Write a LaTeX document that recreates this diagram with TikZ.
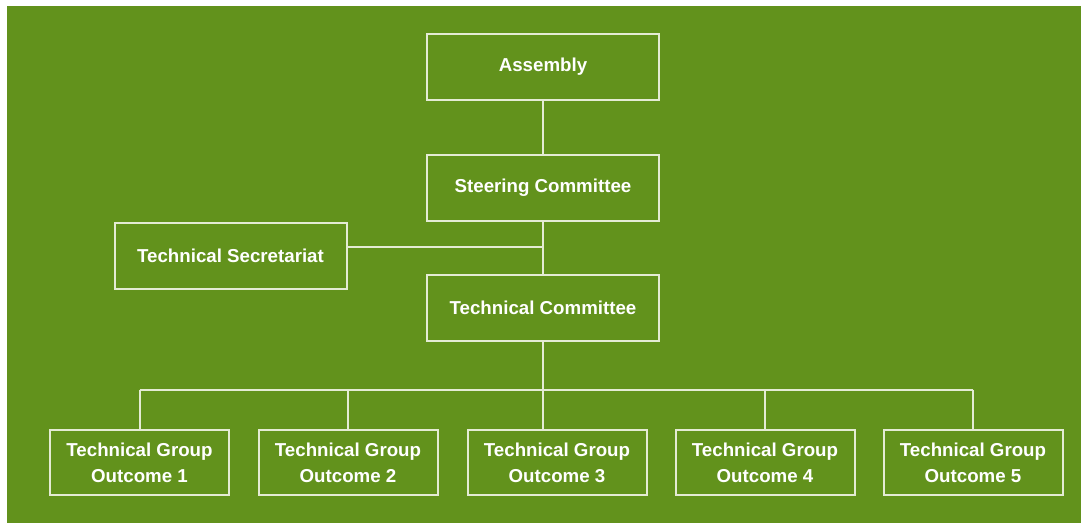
\documentclass[tikz,border=0pt]{standalone}
\usepackage{fontspec}
\setmainfont{Liberation Sans}
\usepackage{tikz}
\usetikzlibrary{calc,positioning}
\definecolor{bggreen}{RGB}{98,146,28}
\definecolor{lineclr}{RGB}{228,235,212}

\begin{document}
\begin{tikzpicture}[x=1pt,y=-1pt,
    every node/.style={font=\bfseries\fontsize{18.7}{26}\selectfont,text=white},
    orgbox/.style={draw=lineclr,line width=2pt,minimum width=232pt,minimum height=66pt,align=center},
    groupbox/.style={orgbox,minimum width=179pt,minimum height=65pt},
    link/.style={draw=lineclr,line width=2pt}]
    \useasboundingbox (0,0) rectangle (1081,523);
    \fill[bggreen] (7,6) rectangle (1081,523);
    % top of the chart
    \node[orgbox] (asm) at (543,67) {Assembly};
    \node[orgbox] (steer) at (543,187.5) {Steering Committee};
    \node[orgbox] (sec) at (230.5,256) {Technical Secretariat};
    \node[orgbox] (tcom) at (543,307.5) {Technical Committee};
    % technical groups
    \node[groupbox] (tg1) at (139.5,462.5) {Technical Group\\Outcome 1};
    \node[groupbox] (tg2) at (348,462.5) {Technical Group\\Outcome 2};
    \node[groupbox] (tg3) at (557,462.5) {Technical Group\\Outcome 3};
    \node[groupbox] (tg4) at (765,462.5) {Technical Group\\Outcome 4};
    \node[groupbox] (tg5) at (973,462.5) {Technical Group\\Outcome 5};
    \coordinate (secj) at (543,247);
    \coordinate (bar) at (543,389.5);
    \draw[link] (asm) -- (steer);
    \draw[link] (steer) -- (tcom);
    \draw[link] (sec.east |- secj) -- (secj);
    \draw[link] (tcom) -- (bar);
    \draw[link] (tg1.north |- bar) -- (tg5.north |- bar);
    \draw[link] (tg1.north |- bar) -- (tg1.north);
    \draw[link] (tg2.north |- bar) -- (tg2.north);
    \draw[link] (bar) -- (bar |- tg3.north);
    \draw[link] (tg4.north |- bar) -- (tg4.north);
    \draw[link] (tg5.north |- bar) -- (tg5.north);
  \end{tikzpicture}
\end{document}
